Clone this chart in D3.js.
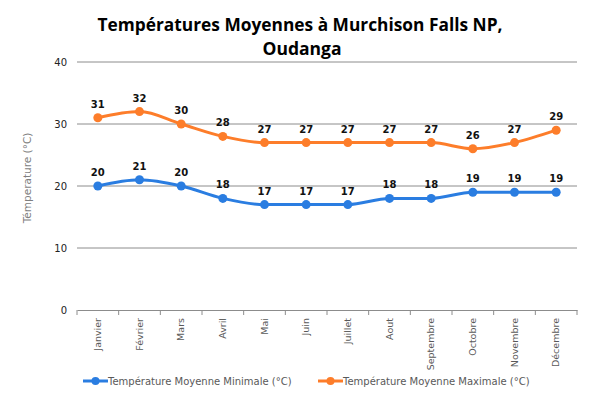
<!DOCTYPE html>
<html>
<head>
<meta charset="utf-8">
<script src="https://cdn.jsdelivr.net/npm/d3@7"></script>
<style>
  body { margin: 0; background: #fff; }
  text { font-family: "DejaVu Sans", Verdana, sans-serif; }
</style>
</head>
<body>
<svg id="chart" width="600" height="399"></svg>
<script>
var w = 600;
var h = 399;

var months = ["Janvier", "Février", "Mars", "Avril", "Mai", "Juin", "Juillet", "Aout", "Septembre", "Octobre", "Novembre", "Décembre"];
var minTemps = [20, 21, 20, 18, 17, 17, 17, 18, 18, 19, 19, 19];
var maxTemps = [31, 32, 30, 28, 27, 27, 27, 27, 27, 26, 27, 29];
var yTicks = [0, 10, 20, 30, 40];

var series = [
  { name: "Température Moyenne Minimale (°C)", values: minTemps, color: "#2a7de1" },
  { name: "Température Moyenne Maximale (°C)", values: maxTemps, color: "#fd7d2a" }
];

var svg = d3.select("#chart");

var x = d3.scaleBand()
  .domain(months)
  .range([77, 577]);

var y = d3.scaleLinear()
  .domain([0, 40])
  .range([310, 62]);

// title
svg.append("text")
  .attr("x", 300)
  .attr("y", 31)
  .attr("text-anchor", "middle")
  .style("font-family", "'Open Sans', sans-serif")
  .style("font-weight", "bold")
  .style("font-size", "17.5px")
  .attr("textLength", 405)
  .attr("lengthAdjust", "spacingAndGlyphs")
  .text("Températures Moyennes à Murchison Falls NP,");

svg.append("text")
  .attr("x", 302)
  .attr("y", 55)
  .attr("text-anchor", "middle")
  .style("font-family", "'Open Sans', sans-serif")
  .style("font-weight", "bold")
  .style("font-size", "17.5px")
  .text("Oudanga");

// grid
svg.selectAll("line.grid")
  .data(yTicks.filter(function(d) { return d > 0; }))
  .enter()
  .append("line")
  .attr("class", "grid")
  .attr("x1", 77)
  .attr("x2", 577)
  .attr("y1", function(d) { return y(d); })
  .attr("y2", function(d) { return y(d); })
  .attr("stroke", "#8c8c8c")
  .attr("stroke-width", 1);

// y axis labels
svg.selectAll("text.ytick")
  .data(yTicks)
  .enter()
  .append("text")
  .attr("class", "ytick")
  .attr("x", 67)
  .attr("y", function(d) { return y(d) + 4; })
  .attr("text-anchor", "end")
  .style("font-size", "10px")
  .attr("fill", "#222")
  .text(function(d) { return d; });

// x axis
var xAxis = svg.append("g")
  .attr("transform", "translate(0,310)")
  .call(d3.axisBottom(x).tickSize(0).tickFormat(""));
xAxis.select(".domain").attr("stroke", "#8c8c8c");

svg.selectAll("line.xtick")
  .data(months.concat(["end"]))
  .enter()
  .append("line")
  .attr("class", "xtick")
  .attr("x1", function(d, i) { return 77 + i * x.step(); })
  .attr("x2", function(d, i) { return 77 + i * x.step(); })
  .attr("y1", 310)
  .attr("y2", 315)
  .attr("stroke", "#8c8c8c");

svg.selectAll("text.xlabel")
  .data(months)
  .enter()
  .append("text")
  .attr("class", "xlabel")
  .attr("transform", function(d) {
    return "translate(" + (x(d) + x.bandwidth() / 2 + 3) + ",318) rotate(-90)";
  })
  .attr("text-anchor", "end")
  .style("font-size", "9.5px")
  .attr("fill", "#595959")
  .text(function(d) { return d; });

// y axis title
svg.append("text")
  .attr("transform", "translate(31,178) rotate(-90)")
  .attr("text-anchor", "middle")
  .style("font-size", "10.5px")
  .attr("fill", "#7f7f7f")
  .text("Témperature (°C)");

// lines
var line = d3.line()
  .x(function(d, i) { return x(months[i]) + x.bandwidth() / 2; })
  .y(function(d) { return y(d); })
  .curve(d3.curveMonotoneX);

series.forEach(function(s) {
  svg.append("path")
    .datum(s.values)
    .attr("d", line)
    .attr("fill", "none")
    .attr("stroke", s.color)
    .attr("stroke-width", 3);

  svg.selectAll(null)
    .data(s.values)
    .enter()
    .append("circle")
    .attr("cx", function(d, i) { return x(months[i]) + x.bandwidth() / 2; })
    .attr("cy", function(d) { return y(d); })
    .attr("r", 4.5)
    .attr("fill", s.color);

  svg.selectAll(null)
    .data(s.values)
    .enter()
    .append("text")
    .attr("x", function(d, i) { return x(months[i]) + x.bandwidth() / 2; })
    .attr("y", function(d) { return y(d) - 10; })
    .attr("text-anchor", "middle")
    .style("font-size", "10px")
    .style("font-weight", "bold")
    .attr("fill", "#111")
    .text(function(d) { return d; });
});

// legend
var legendX = [83, 318];
series.forEach(function(s, i) {
  var g = svg.append("g").attr("transform", "translate(" + legendX[i] + ",381)");
  g.append("line")
    .attr("x1", 0).attr("x2", 25)
    .attr("stroke", s.color)
    .attr("stroke-width", 3);
  g.append("circle")
    .attr("cx", 12.5)
    .attr("r", 4)
    .attr("fill", s.color);
  g.append("text")
    .attr("x", 25)
    .attr("y", 4)
    .style("font-size", "10px")
    .attr("fill", "#595959")
    .text(s.name);
});
</script>
</body>
</html>
